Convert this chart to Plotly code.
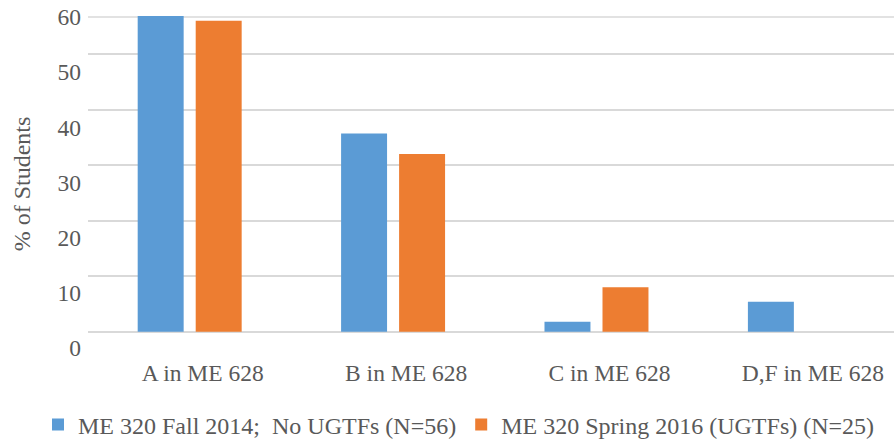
import plotly.graph_objects as go

# Grade distribution in ME 628 by ME 320 cohort
categories = ["A in ME 628", "B in ME 628", "C in ME 628", "D,F in ME 628"]
fall_2014 = [57.1, 35.7, 1.8, 5.4]      # N=56, no UGTFs
spring_2016 = [56.0, 32.0, 8.0, 0.0]    # N=25, with UGTFs
series_names = ["ME 320 Fall 2014;\u00a0 No UGTFs (N=56)",
                "ME 320 Spring 2016 (UGTFs) (N=25)"]
grid_values = [0, 10, 20, 30, 40, 50]
tick_values = [0, 10, 20, 30, 40, 50, 60]
tick_labels = ["0", "10", "20", "30", "40", "50", "60"]

FONT = "Liberation Serif"
TEXT = "#595959"
GRID = "#d9d9d9"
BLUE = "#5b9bd5"
ORANGE = "#ed7d31"


def serif(size):
    return dict(family=FONT, size=size, color=TEXT)


fig = go.Figure()
fig.add_trace(go.Bar(x=categories, y=fall_2014, name=series_names[0],
                     marker=dict(color=BLUE, line=dict(width=0)),
                     width=0.226, offset=-0.2557))
fig.add_trace(go.Bar(x=categories, y=spring_2016, name=series_names[1],
                     marker=dict(color=ORANGE, line=dict(width=0)),
                     width=0.226, offset=0.0295))

# invisible helper trace carrying the labelled value axis
fig.add_trace(go.Scatter(x=[categories[0]], y=[0], yaxis="y2", mode="markers",
                         marker=dict(opacity=0), showlegend=False, hoverinfo="skip"))

fig.add_shape(type="line", xref="paper", yref="y2", x0=0, x1=1, y0=60, y1=60,
              line=dict(color=GRID, width=1.5), layer="below")

fig.update_layout(
    width=894, height=444,
    margin=dict(l=88, r=0, t=16, b=92, autoexpand=False),
    paper_bgcolor="white", plot_bgcolor="white",
    barmode="overlay",
    font=serif(23.5),
    xaxis=dict(range=[-0.5, 3.4626], showgrid=False, zeroline=False,
               showline=False, ticks="", tickfont=serif(23.5), automargin=False,
               ticklabelstandoff=4, ticklabelshift=13),
    yaxis=dict(range=[-3.655, 56.84], tickvals=grid_values, showticklabels=False,
               showgrid=True, gridcolor=GRID, gridwidth=1.5, zeroline=False,
               showline=False, ticks="", automargin=False),
    yaxis2=dict(range=[-0.725, 60.181], overlaying="y", side="left",
                tickvals=tick_values, ticktext=tick_labels, showgrid=False,
                zeroline=False, showline=False, ticks="", automargin=False,
                tickfont=serif(23.5), ticklabelstandoff=6,
                title=dict(text="% of Students", font=serif(24), standoff=20)),
    legend=dict(orientation="h", xref="paper", yref="paper",
                x=(38 - 88) / 806, y=(352 - 425) / 336,
                xanchor="left", yanchor="middle",
                font=serif(24), bgcolor="rgba(0,0,0,0)", itemclick=False),
    showlegend=True,
)

fig.write_html("out.html")
